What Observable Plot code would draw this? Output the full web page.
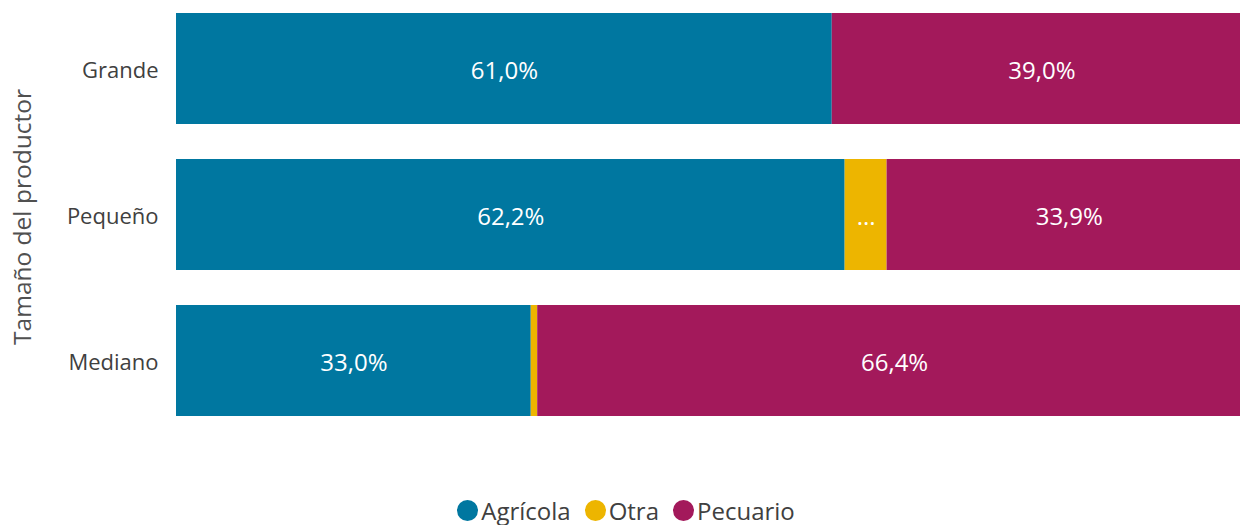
<!DOCTYPE html>
<html>
<head>
<meta charset="utf-8">
<script src="https://cdn.jsdelivr.net/npm/d3@7"></script>
<script src="https://cdn.jsdelivr.net/npm/@observablehq/plot@0.6"></script>
<style>
  html, body { margin: 0; padding: 0; background: #fff; overflow: hidden; }
  body { width: 1240px; height: 525px; font-family: "Open Sans", "Noto Sans", sans-serif; }
  #legend { display: flex; justify-content: center; align-items: center; gap: 14px; height: 30px;
            font-size: 24px; color: #404040; padding-left: 12px; }
  .item { display: flex; align-items: center; gap: 3px; }
  .sw { width: 21px; height: 21px; border-radius: 50%; display: inline-block; }
</style>
</head>
<body>
<div id="chart"></div>
<div id="legend"></div>
<script>
const categories = ["Grande", "Pequeño", "Mediano"];
const series = ["Agrícola", "Otra", "Pecuario"];
const colors = ["#0077A0", "#EDB500", "#A3195B"];
const agricola = [61.0, 62.2, 33.0];
const otra = [0.0, 3.9, 0.6];
const pecuario = [39.0, 33.9, 66.4];
const axisTitle = "Tamaño del productor";

const values = [agricola, otra, pecuario];
const data = [];
categories.forEach((c, i) => {
  series.forEach((s, j) => data.push({cat: c, serie: s, value: values[j][i]}));
});
const fmt = v => v < 1 ? "" : v < 5 ? "..." : v.toFixed(1).replace(".", ",") + "%";

const chart = Plot.plot({
  width: 1240,
  height: 495,
  marginLeft: 176,
  marginTop: 13,
  marginBottom: 79,
  marginRight: 0,
  style: {fontFamily: "'Open Sans', 'Noto Sans', sans-serif", background: "#fff", overflow: "hidden"},
  x: {domain: [0, 100], range: [176, 1251], axis: null},
  y: {domain: categories, paddingInner: 0.24, paddingOuter: 0, label: null},
  color: {domain: series, range: colors},
  marks: [
    Plot.barX(data, Plot.stackX({x: "value", y: "cat", z: "serie", fill: "serie", order: null})),
    Plot.text(data, Plot.stackX({x: "value", y: "cat", z: "serie", order: null,
      text: d => fmt(d.value), fill: "white", fontSize: 24, dy: 2})),
    Plot.axisY({tickSize: 0, tickPadding: 18, fontSize: 22, color: "#404040", label: null, dy: 2}),
    Plot.text([axisTitle], {frameAnchor: "left", dx: -153, dy: 2, rotate: -90, textAnchor: "middle",
      fontSize: 24.5, fill: "#505050", text: d => d})
  ]
});
document.getElementById("chart").appendChild(chart);

const legend = document.getElementById("legend");
series.forEach((s, i) => {
  const it = document.createElement("span");
  it.className = "item";
  it.innerHTML = `<span class="sw" style="background:${colors[i]}"></span><span>${s}</span>`;
  legend.appendChild(it);
});
</script>
</body>
</html>
